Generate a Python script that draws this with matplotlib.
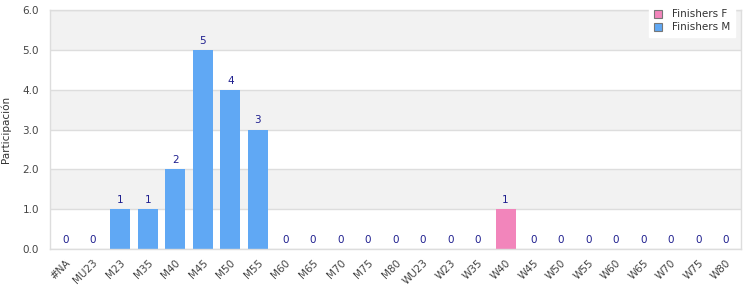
import matplotlib
matplotlib.use("Agg")
import matplotlib.pyplot as plt
import numpy as np

categories = ["#NA", "MU23", "M23", "M35", "M40", "M45", "M50", "M55", "M60", "M65",
              "M70", "M75", "M80", "WU23", "W23", "W35", "W40", "W45", "W50", "W55",
              "W60", "W65", "W70", "W75", "W80"]
finishers_m = [0, 0, 1, 1, 2, 5, 4, 3, 0, 0, 0, 0, 0, 0, 0, 0, 0, 0, 0, 0, 0, 0, 0, 0, 0]
finishers_f = [0, 0, 0, 0, 0, 0, 0, 0, 0, 0, 0, 0, 0, 0, 0, 0, 1, 0, 0, 0, 0, 0, 0, 0, 0]
yticks = [0, 1, 2, 3, 4, 5, 6]

plt.rcParams['font.family'] = ['DejaVu Sans']

fig = plt.figure(figsize=(7.5, 3.0), dpi=100)
ax = fig.add_axes([50/750, 1-249/300, (741-50)/750, (249-10)/300])

x = np.arange(len(categories))
m = np.array(finishers_m)
f = np.array(finishers_f)

# alternating bands
for i in range(len(yticks) - 1):
    if i % 2 == 1:
        ax.axhspan(yticks[i], yticks[i+1], color="#f2f2f2", zorder=0, lw=0)
for yv in yticks:
    ax.axhline(yv, color="#dddddd", lw=1, zorder=0.5)

c_m = "#60a8f4"
c_f = "#f285bb"
bm = ax.bar(x, m, width=0.72, color=c_m, zorder=2, label="Finishers M")
bf = ax.bar(x, f, width=0.72, bottom=m, color=c_f, zorder=2, label="Finishers F")

tot = m + f
for xi, t in zip(x, tot):
    ax.annotate(str(int(t)), (xi, t), xytext=(0, 3), textcoords="offset points",
                ha="center", va="bottom", fontsize=7.5, color="#1f1f8f")

ax.set_xlim(-0.55, len(categories) - 0.45)
ax.set_ylim(0, 6)
ax.set_yticks(yticks)
ax.set_yticklabels([f"{v:.1f}" for v in yticks])
ax.set_xticks(x)
ax.set_xticklabels(categories, rotation=45, ha="right", rotation_mode="anchor")
ax.tick_params(axis="both", length=0, labelsize=7.5, labelcolor="#444444")
ax.tick_params(axis="x", pad=6)
ax.tick_params(axis="y", pad=8)
for s in ax.spines.values():
    s.set_color("#dddddd")
    s.set_linewidth(1)
ax.set_ylabel("Participación", fontsize=7.5, color="#333333")
ax.yaxis.set_label_coords(-44/691, 0.5)
ax.yaxis.label.set_va("center")

handles = [bf, bm]
leg = ax.legend(handles, ["Finishers F", "Finishers M"], loc="upper right",
                bbox_to_anchor=(740/750, 1.0), bbox_transform=fig.transFigure,
                frameon=True, fontsize=7.5, handlelength=0.8, handleheight=0.8,
                borderpad=0.4, labelspacing=0.3, handletextpad=1.0)
leg.get_frame().set_edgecolor("white")
leg.get_frame().set_facecolor("white")
leg.get_frame().set_alpha(1)
leg.get_frame().set_boxstyle("square", pad=0)
for p in leg.get_patches():
    p.set_edgecolor("#777777")
    p.set_linewidth(0.8)
for t in leg.get_texts():
    t.set_color("#333333")

fig.savefig("out.png", dpi=100)
